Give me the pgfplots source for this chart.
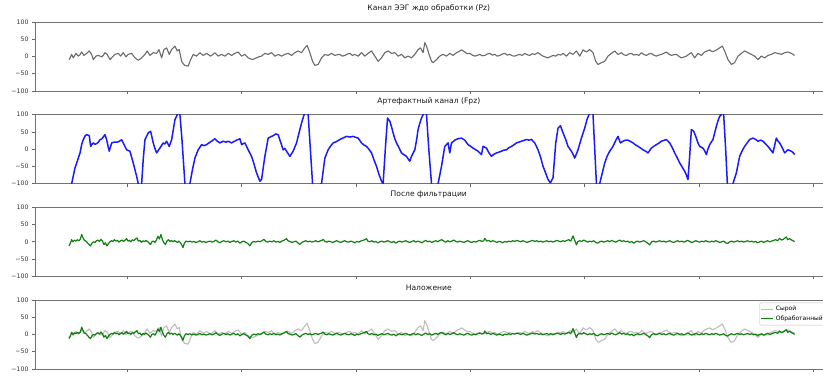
\documentclass[border=0pt]{standalone}
\usepackage{fontspec}
\setmainfont{DejaVu Sans}
\usepackage{pgfplots}
\usepackage{pgfplotstable}
\pgfplotsset{compat=1.18}
\definecolor{mplblue}{HTML}{1A1AFF}
\definecolor{mplgreen}{HTML}{108010}
\definecolor{rawgray}{HTML}{6A6A6A}
\definecolor{lightraw}{HTML}{BDBDBD}

\pgfplotstableread{
x y
69 -9
70 -5
71.7 6
73.3 -4
75 4
76 9
78.3 1
80 5
81.7 13
84 3
86.7 9
89.3 16
91.7 6
93.3 -9
96 1
98.3 3
101.7 -1
103.5 4
105 11
107.3 6
110 -9
112.7 -1
115 6
118.3 9
120.7 1
123.3 11
126 -1
128.3 6
131.7 9
133.5 2
135 -4
138.3 -11
140 -8
141.7 -4
145 6
147.3 16
150 3
153.3 11
156.7 9
159 20
161.7 -4
164 20
166.7 25
169.3 6
171.7 20
175 30
177.3 16
179.3 20
181.7 -14
183.5 -22
185 -26
188.3 -28
190.7 -9
193.3 6
196.7 1
200 11
203.3 3
206.7 9
210.7 1
213 6
215 11
218.3 1
221.7 6
225 1
228.3 9
231.7 3
235 9
238.3 13
241.7 1
245 6
248.3 -4
250.5 -7
252.7 -9
256.7 -4
259 -1
261.7 1
265 9
268.3 6
271.7 11
275 1
278.3 6
281.7 1
285 6
288.3 9
291.7 3
295 11
298.3 16
301.7 11
305 25
307.3 32
310 11
312.7 -14
315 -26
318.3 -23
321.7 -4
325 6
328.3 3
331.7 9
335 3
337.5 5
340 6
342.5 1
345 3
347.5 7
350 9
352.5 3
355 6
358.3 1
361.7 11
365 1
368.3 9
371.7 16
375 1
378.3 -14
381.7 -4
385 11
388.3 16
391.7 9
395 11
398.3 1
401.7 6
405 -4
408.3 1
411.7 -4
415 6
418.3 20
420.7 25
423.3 11
425 40
426.7 30
429.3 6
431.7 -14
433.3 -18
436.7 -9
440 1
443.3 6
446.7 1
450 9
453.3 3
456.7 11
459 14
461.7 19
465 13
467.5 8
470 9
472.5 4
475 1
477.5 3
480 6
482.5 2
485 3
487.5 7
490 9
492.5 4
495 6
497.5 1
500 3
502.5 7
505 9
507.5 4
510 6
512.5 2
515 1
517.5 4
520 6
522.5 3
525 9
527.5 5
530 3
532.5 8
535 6
538.3 11
541 5
543.3 1
546 -2
548.3 -4
551 0
553.3 3
556 1
558.3 6
561 4
563.3 9
566.7 1
570 11
573.3 6
576.7 16
580 1
583.3 19
586.7 13
590 20
593.3 11
596 -14
598.3 -23
601.7 -18
605 -14
608.3 1
611.7 9
615 16
618.3 6
621.7 11
624 5
626.7 3
629 7
631.7 9
634 4
636.7 6
639 3
641.7 11
644 6
646.7 3
649 7
651.7 9
654 4
656.7 1
659 4
661.7 6
664 9
666.7 13
669 7
671.7 3
674 5
676.7 6
679 1
681.7 -4
684 -2
686.7 1
689 6
691.7 11
695 -4
698.3 9
701.7 3
705 13
707.5 16
710 19
712.5 14
715 16
717.5 20
720 25
722.7 30
725 16
728.3 -9
731.7 -23
735 -18
738.3 1
741.7 9
745 16
748.3 11
751.7 6
755 1
758.3 -9
761.7 1
765 -4
768.3 3
771.7 6
775 11
778.3 9
781.7 6
785 11
788.3 13
791.7 9
795 3
}\rawtab

\pgfplotstableread{
x y
69 -135
71.7 -100
75 -55
78.3 -26
80 -12
81.7 13
83.3 27
85 38
86.7 42
89.3 39
90.7 8
92 14
93.3 18
95 14
96.7 16
98.3 20
100 27
102 30
105 42
106.7 27
108 10
109.3 -6
111.7 18
114 20
116.7 20
119 22
121.7 27
123.3 18
125 8
126.7 -2
128.3 -4
130 -6
133.3 -40
136.7 -79
138.3 -100
140 -118
141.7 -100
143.3 -30
145 27
148.3 47
150.7 52
153.3 18
155 2
156.7 -11
158.3 -4
160 3
163.3 18
165 15
166.7 23
169.3 8
171.7 27
173.3 55
175 85
177.3 100
179 125
180 100
182 30
185 -100
187.5 -145
190 -100
192.5 -60
195 -26
198.3 -2
201.7 13
204 10
206.7 13
209 18
211.7 23
215 30
217 24
220 18
223.3 23
226 20
228.3 23
231.7 18
234 22
236.7 26
240 30
241.7 13
243.3 16
245 18
248.3 -2
251.7 -21
254 -42
256.7 -69
260 -93
261.7 -88
263.3 -55
265 -21
268.3 32
271 36
273.3 39
276 44
278.3 42
280 27
283.3 -2
285 2
286.7 -6
290 -21
293.3 -6
296.7 18
300 57
302.7 86
304.3 100
306 120
308.3 100
310.5 0
312.7 -100
315 -140
317 -120
319 -105
321.7 -100
325 -26
328.3 -2
330.5 8
333.3 18
336.7 22
340 28
343 32
346.7 37
350 35
353.3 37
356 34
358.3 32
361.7 18
364 12
366.7 8
369 0
371.7 -11
374 -30
376.7 -50
379 -72
381.7 -93
383.3 -100
385.5 0
387.7 90
390 81
391.7 65
393.3 47
395 30
396.7 18
399 5
401.7 -11
404 -16
406.7 -21
408.3 -28
410 -35
411.7 -21
415 -2
416.7 25
418.3 57
420 75
421.7 90
423.3 100
425 115
426.7 100
429 0
431.7 -100
434 -135
436 -120
438.3 -100
441.7 -50
445 8
448.3 18
450 -11
451.7 18
455 26
458 30
461.7 32
465 26
468.3 13
471 8
473.3 3
476 -2
478.3 -6
481.7 -16
483.3 8
486.7 3
489 -10
491.7 -21
494 -15
496.7 -11
499 -9
501.7 -6
504 -3
506.7 -2
509 4
511.7 8
514 12
516.7 18
519 20
521.7 23
524 25
526.7 28
529 26
531.7 28
535 18
538.3 -2
541 -25
543.3 -50
546 -70
548.3 -88
550.7 -98
553.3 -83
556 18
558.3 61
560.7 68
563.3 47
566 28
568.3 8
571.7 -6
573.3 -15
575 -26
578.3 -2
581.7 32
585 61
587.3 86
589.3 100
591 118
593.3 100
595 0
596.7 -100
598.5 -130
600 -100
605 -40
607.5 -20
610 -6
613.3 8
616 25
618.3 37
620.7 18
623.3 23
626 26
628.3 26
631 22
633.3 18
636 12
638.3 8
641 3
643.3 -2
646 -6
648.3 -11
651.7 3
654 8
656.7 13
659 17
661.7 23
664 25
666.7 28
670 18
672.5 5
675 -11
677.5 -25
680 -40
682.5 -52
685 -64
686.7 -75
688.3 -88
690 -20
691.7 57
694 52
696.7 32
698 20
700 8
703.3 3
705 -5
706.7 -16
708 -2
710 13
713.3 28
716.7 66
718.3 82
720 95
721.7 100
723 115
724 100
726 0
727.7 -100
730 -130
732 -110
733.3 -100
736.7 -69
740 -21
742.5 -5
745 8
747.5 18
750 28
753.3 32
756 28
758.3 23
761 26
763.3 23
766 15
768.3 8
771 -2
773.3 -11
776.7 32
778 25
780 18
782.5 5
785 -11
788.3 -2
791.7 -6
793.5 -10
795 -16
}\arttab

\pgfplotstableread{
x y
69 -12
70.5 -4
71.7 6
73 0
74.5 5
76 2
77.5 6
79 3
80.5 8
81.7 21
83 12
84.5 4
86 2
87.5 -3
89 -8
90.5 -12
92 -4
93.5 0
95 -2
96.5 3
98 5
99.5 1
101 7
102.5 2
104 -8
105.5 -3
107 -12
108.5 -5
110 0
111.5 3
113 1
114.5 6
116 2
117.5 4
119 -1
120.5 3
122 5
123.5 1
125 4
126.7 9
128 2
129.5 4
131 0
132.5 6
134 3
135.5 8
137 11
138.5 2
140 4
141.5 -2
143 3
144.5 0
146 4
147.5 1
149 -3
150.5 -8
152 0
153.5 2
155 -2
156.5 5
158 16
159.5 8
161 21
162.5 6
164 -3
165.5 -8
167 2
168.5 6
170 1
171.5 4
173 0
174.5 3
176 1
177.5 -2
179 2
180.5 -3
181.7 -8
183 -17
184.5 -4
186 2
188 0
190 2
192 -1
194 1
196 -2
198 0
200 3
202 -1
204 1
206 -2
208 0
210 2
212 -1
214 1
216 5
218 0
220 -3
222 1
224 3
226 0
228 2
230 -2
232 1
234 3
236 -1
238 2
240 -4
242 0
244 2
246 -2
248 -5
250 -12
252 -2
254 1
256 -1
258 2
260 0
262 3
264 7
266 1
268 -1
270 2
272 0
274 3
276 -1
278 1
280 -2
282 2
284 4
286.7 9
288 3
290 1
292 -2
294 0
296 2
298 -3
300 -8
302 -2
304 1
306 3
308 0
310 2
312 -1
314 1
316 3
318 0
320 2
322 4
323.3 7
325 1
327 -1
329 2
331 0
333 -2
335 1
337 3
339 0
341 -2
343 1
345 3
347 0
349 -1
351 2
353 0
355 -3
357 1
359 -1
361 2
363 4
365 6
366.7 9
368 2
370 0
372 3
374 -1
376 1
378 -3
380 0
382 2
384 -1
386 1
388 3
390 0
392 -2
394 1
396 -4
398 0
400 2
402 -1
404 1
406 3
408 0
410 -2
412 1
414 3
416 -1
418 2
420 0
422 -3
424 1
426 4
428 0
430 2
432 -2
434 1
436 3
438 0
440 4
442 6
444 2
446 -1
448 3
450 0
452 2
454 5
456 1
458 -1
460 2
462 0
464 -2
466 1
468 3
470 0
472 -2
474 1
476 -1
478 2
480 4
482 1
484 3
485 10
487 2
489 4
491 0
493 3
495 1
497 -2
499 1
501 0
503 -3
505 1
507 -1
509 2
511 0
513 3
515 1
517 4
519 2
521 0
523 3
525 1
527 -2
529 0
531 2
533 4
535 1
537 3
539 0
541 2
543 -1
545 1
547 3
549 0
551 2
553 -1
555 1
557 4
559 2
561 0
563 3
565 1
567 4
569 6
571 2
573.3 17
575 4
576.7 -9
578 0
580 3
582 1
584 5
586 2
588 -1
590 2
592 0
594 3
596 -2
598 -4
600 0
602 2
604 -1
606 1
608 3
610 0
612 4
614 1
616 -1
618 2
620 5
622 1
624 3
626 0
628 2
630 -2
632 1
634 -4
636 0
638 2
640 -1
642 1
644 3
646 0
648 -4
650 -9
652 0
654 2
656 -1
658 1
660 3
662 0
664 2
666 -1
668 1
670 3
672 0
674 -2
676 1
678 3
680 0
682 2
684 -1
686 1
688 4
690 1
692 -2
694 0
696 3
698 1
700 -1
702 2
704 0
706 3
708 1
710 -1
712 2
714 0
716 3
718 1
720 -2
722 0
724 2
726 -3
728 -5
730 0
732 2
734 -1
736 1
738 3
740 0
742 2
744 -1
746 1
748 3
750 0
752 2
754 -1
756 1
758 -3
760 0
762 2
764 -2
766 1
768 3
770 0
772 2
774 4
776 6
778 3
780 10
782 5
784 8
786.7 14
788 6
790 9
792 5
794 2
795 0
}\filttab

\pgfplotsset{
  eeg/.style={
    scale only axis, width=788pt, height=69pt,
    anchor=south west,
    xmin=35, xmax=823, ymin=-100, ymax=100,
    axis x line*=box, axis y line*=left,
    ytick={-100,-50,0,50,100},
    yticklabels={−100,−50,0,50,100},
    xtick={127,241.5,356,470.5,585,699.5,814},
    xticklabels={},
    tick align=outside, xtick pos=left, ytick pos=left,
    major tick length=3pt,
    axis line style={black!55, line width=0.8pt, -},
    tick style={black!60, line width=0.6pt},
    ticklabel style={font=\fontsize{6.2}{7}\selectfont, text=black!80},
    title style={font=\fontsize{7.6}{9}\selectfont, text=black!90},
    clip=true,
  }
}

\begin{document}
\begin{tikzpicture}
\path (0pt,0pt) rectangle (823pt,370pt);
\begin{axis}[eeg, at={(35pt,279pt)}, title={Канал ЭЭГ ждо обработки (Pz)}]
\addplot[rawgray, line width=1.1pt, line join=round] table {\rawtab};
\end{axis}
\begin{axis}[eeg, at={(35pt,186.3pt)}, title={Артефактный канал (Fpz)}]
\addplot[mplblue, line width=1.5pt, line join=round] table {\arttab};
\end{axis}
\begin{axis}[eeg, at={(35pt,93.6pt)}, title={После фильтрации}]
\addplot[mplgreen, line width=1.2pt, line join=round] table {\filttab};
\end{axis}
\begin{axis}[eeg, at={(35pt,0.9pt)}, title={Наложение},
  yticklabel style={overlay},
  legend style={at={(1.005,0.96)}, anchor=north east, overlay,
    font=\fontsize{6}{7}\selectfont, draw=black!25, rounded corners=1.5pt,
    fill=white, fill opacity=0.8, text opacity=1, inner sep=1.5pt, row sep=-1pt},
  legend cell align=left,
  legend image code/.code={\draw[#1] (0pt,0pt) -- (12pt,0pt);}]
\addplot[lightraw, line width=1.1pt, line join=round] table {\rawtab};
\addlegendentry{Сырой}
\addplot[mplgreen, line width=1.2pt, line join=round] table {\filttab};
\addlegendentry{Обработанный}
\end{axis}
\end{tikzpicture}
\end{document}
